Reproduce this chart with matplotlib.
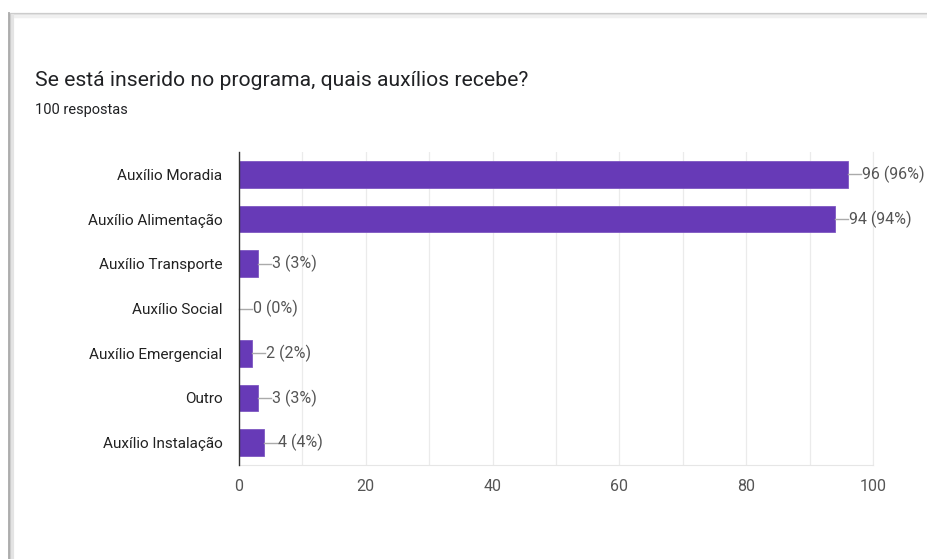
import matplotlib
matplotlib.use("Agg")
import matplotlib.pyplot as plt
from matplotlib.lines import Line2D
from matplotlib.ticker import MultipleLocator

categories = ["Auxílio Moradia", "Auxílio Alimentação", "Auxílio Transporte",
              "Auxílio Social", "Auxílio Emergencial", "Outro", "Auxílio Instalação"]
counts = [96, 94, 3, 0, 2, 3, 4]
percents = [96, 94, 3, 0, 2, 3, 4]
xticks = [0, 20, 40, 60, 80, 100]
title = "Se está inserido no programa, quais auxílios recebe?"
subtitle = "100 respostas"

plt.rcParams['font.family'] = ['Roboto', 'DejaVu Sans']

fig = plt.figure(figsize=(9.28, 5.59), dpi=100)
W, H = 928, 559

# card border with shadow
for off, col, lw in [(2.5, '#f0f0f0', 2.5), (1.2, '#e0e0e0', 1.2), (0, '#cccccc', 0.9)]:
    fig.add_artist(Line2D([(10 + off) / W, 1], [1 - (13 + off) / H, 1 - (13 + off) / H],
                          transform=fig.transFigure, color=col, lw=lw))
for off, col, lw in [(3, '#e4e4e4', 3), (1.5, '#cccccc', 1.5), (0, '#aaaaaa', 1.3)]:
    fig.add_artist(Line2D([(9 + off) / W, (9 + off) / W], [0, 1 - (13 + off) / H],
                          transform=fig.transFigure, color=col, lw=lw))

fig.text(35 / W, 1 - 80 / H, title, fontsize=15.2, color='#202124', va='center', ha='left')
fig.text(35 / W, 1 - 110 / H, subtitle, fontsize=10.5, color='#202124', va='center', ha='left')

ax = fig.add_axes([239 / W, 1 - 465 / H, (873 - 239) / W, (465 - 152) / H])
y = list(range(len(categories)))
ax.barh(y, counts, height=0.6, color='#673ab7', edgecolor='#7e57c2', linewidth=0.6, zorder=3)
ax.set_ylim(len(categories) - 0.5, -0.5)
ax.set_xlim(0, 100)
ax.set_yticks(y)
ax.set_yticklabels(categories, fontsize=11, color='#222222')
ax.set_xticks(xticks)
ax.set_xticklabels([str(t) for t in xticks], fontsize=11.5, color='#555555')
ax.xaxis.set_minor_locator(MultipleLocator(10))
ax.grid(True, axis='x', which='both', color='#ebebeb', lw=0.9, zorder=0)
ax.tick_params(axis='both', which='both', length=0)
ax.tick_params(axis='y', pad=12)
ax.tick_params(axis='x', pad=10)
ax.spines['top'].set_visible(False)
ax.spines['right'].set_color('#ebebeb')
ax.spines['bottom'].set_color('#e6e6e6')
ax.spines['left'].set_color('#333333')
ax.spines['left'].set_linewidth(1.0)
ax.spines['left'].set_zorder(5)

for yi, c, p in zip(y, counts, percents):
    ax.plot([c, c + 2.1], [yi, yi], color='#aaaaaa', lw=1.0, zorder=4, clip_on=False)
    ax.text(c + 2.2, yi, f"{c} ({p}%)", fontsize=11.5, color='#555555',
            va='center', ha='left', zorder=4, clip_on=False)

fig.savefig("out.png", dpi=100)
